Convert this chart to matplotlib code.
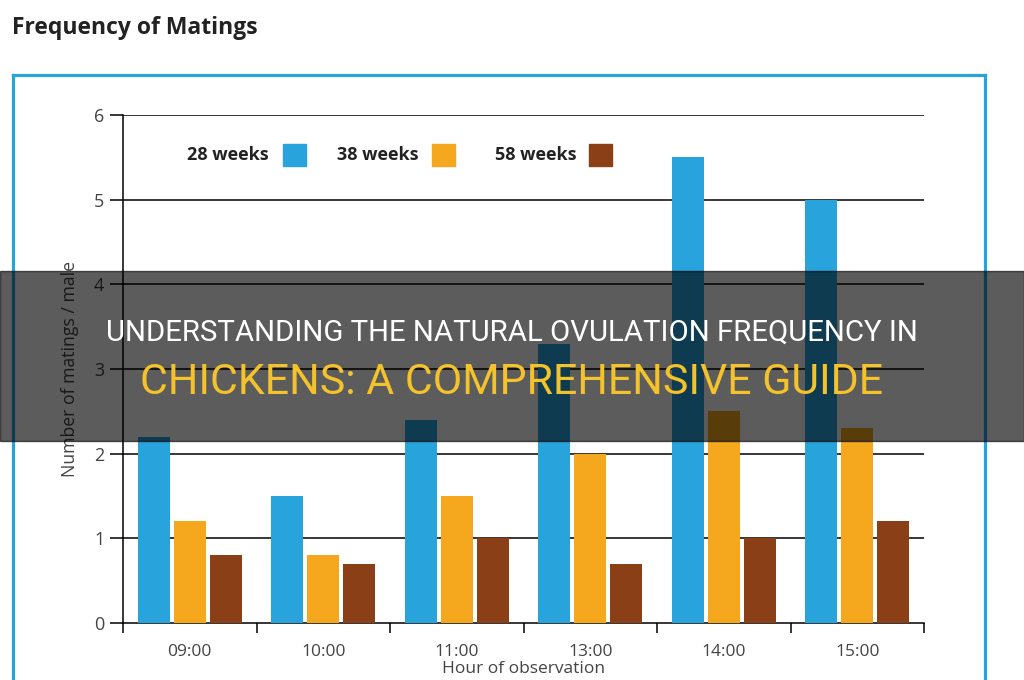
import numpy as np
import matplotlib
matplotlib.use("Agg")
import matplotlib.pyplot as plt
from matplotlib.patches import Rectangle
from matplotlib.lines import Line2D

# data
hours = ['09:00', '10:00', '11:00', '13:00', '14:00', '15:00']
series = ['28 weeks', '38 weeks', '58 weeks']
w28 = [2.2, 1.5, 2.4, 3.3, 5.5, 5.0]
w38 = [1.2, 0.8, 1.5, 2.0, 2.5, 2.3]
w58 = [0.8, 0.7, 1.0, 0.7, 1.0, 1.2]
colors = ['#29a3dc', '#f5a71e', '#8b3f16']
yticks = [0, 1, 2, 3, 4, 5, 6]

title = 'Frequency of Matings'
ylabel = 'Number of matings / male'
xlabel = 'Hour of observation'
banner1 = 'UNDERSTANDING THE NATURAL OVULATION FREQUENCY IN'
banner2 = 'CHICKENS: A COMPREHENSIVE GUIDE'

plt.rcParams['font.family'] = ['Open Sans', 'DejaVu Sans']

fig = plt.figure(figsize=(10.24, 6.8), dpi=100)
W, H = 1024, 680

def fx(px):
    return px / W

def fy(py):
    return 1 - py / H

ax = fig.add_axes([fx(123), fy(623), fx(924) - fx(123), fy(115) - fy(623)])
x = np.arange(len(hours))
for vals, off, c in zip([w28, w38, w58], [-0.27, 0, 0.27], colors):
    ax.bar(x + off, vals, width=0.24, color=c, zorder=3)

ax.set_xlim(-0.5, len(hours) - 0.5)
ax.set_ylim(0, 6)
ax.set_yticks(yticks)
for y in yticks[1:]:
    ax.axhline(y, color='black', lw=1.1, zorder=1)
for s in ['top', 'right']:
    ax.spines[s].set_visible(False)
for s in ['left', 'bottom']:
    ax.spines[s].set_linewidth(1.1)
ax.tick_params(axis='y', length=9.5, width=1.1, pad=4, labelsize=13, labelcolor='#444444')
ax.set_xticks(x)
ax.set_xticklabels(hours)
ax.set_xticks(np.arange(len(hours) + 1) - 0.5, minor=True)
ax.tick_params(axis='x', which='major', length=0, pad=15, labelsize=12.5, labelcolor='#444444')
ax.tick_params(axis='x', which='minor', length=7.5, width=1.1)
ax.set_ylabel(ylabel, fontsize=12.7, color='#444444', labelpad=11)

# legend: label then swatch
lx = [0.080, 0.267, 0.464]
sx = [0.1998, 0.386, 0.582]
for name, c, a, b in zip(series, colors, lx, sx):
    ax.text(a, 0.921, name, transform=ax.transAxes, fontsize=13, fontweight='bold',
            color='#222222', va='center', ha='left')
    ax.add_patch(Rectangle((b, 0.8996), 0.0285, 0.0433, transform=ax.transAxes,
                           color=c, clip_on=False))

fig.text(fx(12), fy(28), title, fontsize=16.5, fontweight='bold', color='#222222',
         va='center', ha='left')
fig.text(fx(523), fy(669), xlabel, fontsize=12.5, color='#444444', va='center', ha='center')

# blue frame
fc = '#29a3dc'
fig.add_artist(Line2D([fx(13), fx(13)], [fy(75), -0.05], color=fc, lw=2.3))
fig.add_artist(Line2D([fx(13), fx(985)], [fy(75), fy(75)], color=fc, lw=2.3))
fig.add_artist(Line2D([fx(985), fx(985)], [fy(75), -0.05], color=fc, lw=2.3))

# dark banner with headline
fig.add_artist(Rectangle((0, fy(441)), 1, fy(271) - fy(441), transform=fig.transFigure,
                         color='black', alpha=0.64, zorder=10))
bfam = ['Roboto', 'DejaVu Sans']
t1 = fig.text(0.5, fy(333), banner1, color='white', fontsize=26, family=bfam,
              ha='center', va='center', zorder=11)
t2 = fig.text(0.5, fy(383), banner2, color='#f4c22b', fontsize=32, family=bfam,
              ha='center', va='center', zorder=11)
fig.canvas.draw()
r = fig.canvas.get_renderer()
for t, target in [(t1, 813), (t2, 744)]:
    wpx = t.get_window_extent(r).width
    t.set_fontsize(t.get_fontsize() * target / wpx)

fig.savefig('out.png', dpi=100)
